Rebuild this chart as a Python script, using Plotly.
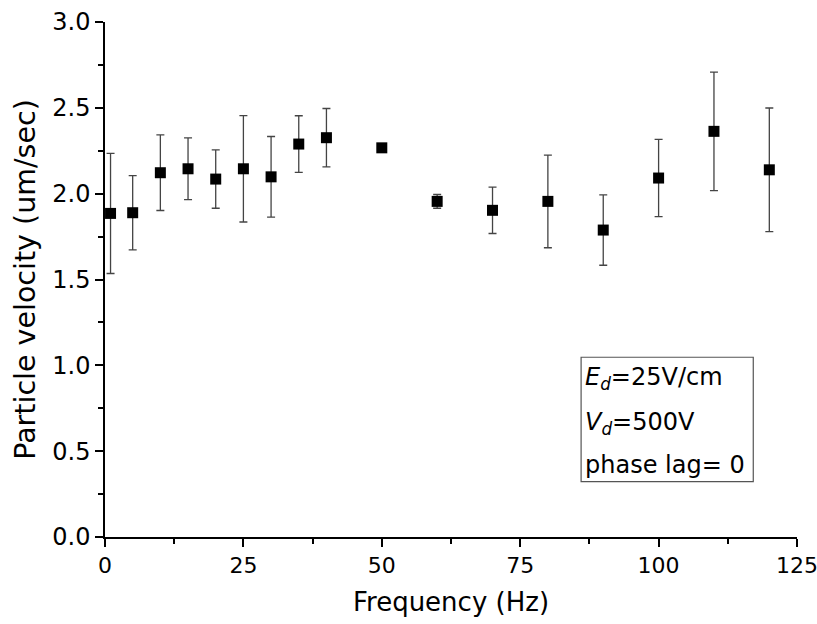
import plotly.graph_objects as go

freq = [1, 5, 10, 15, 20, 25, 30, 35, 40, 50, 60, 70, 80, 90, 100, 110, 120]
velocity = [1.885, 1.889, 2.122, 2.145, 2.085, 2.145, 2.098, 2.289, 2.326, 2.267,
            1.955, 1.903, 1.955, 1.788, 2.091, 2.363, 2.139]
err = [0.35, 0.216, 0.22, 0.18, 0.17, 0.31, 0.235, 0.165, 0.17, 0.02,
       0.04, 0.135, 0.27, 0.205, 0.225, 0.345, 0.36]

FONT = "DejaVu Sans"

fig = go.Figure()
fig.add_trace(go.Scatter(
    x=freq, y=velocity, mode="markers",
    marker=dict(symbol="square", size=11, color="black"),
    error_y=dict(type="data", array=err, visible=True, color="#444444",
                 thickness=1.3, width=4),
    showlegend=False,
))

fig.update_layout(
    width=817, height=624,
    margin=dict(l=105, r=20, t=22, b=87),
    paper_bgcolor="white", plot_bgcolor="white",
    font=dict(family=FONT, color="black"),
    xaxis=dict(
        range=[0, 125], tickmode="linear", tick0=0, dtick=25, automargin=False,
        ticklabeloverflow="allow",
        showgrid=False, zeroline=False, showline=True, linecolor="black", linewidth=1.5,
        ticks="outside", ticklen=8, tickwidth=1.5, tickcolor="black",
        tickfont=dict(size=22, family=FONT),
        minor=dict(dtick=12.5, ticks="outside", ticklen=5, tickwidth=1.5, tickcolor="black", showgrid=False),
        title=dict(text="Frequency (Hz)", font=dict(size=26, family=FONT), standoff=16),
    ),
    yaxis=dict(
        range=[0, 3], tickmode="linear", tick0=0, dtick=0.5, tickformat=".1f", automargin=False,
        showgrid=False, zeroline=False, showline=True, linecolor="black", linewidth=1.5,
        ticks="outside", ticklen=8, tickwidth=1.5, tickcolor="black",
        tickfont=dict(size=24, family=FONT),
        minor=dict(dtick=0.25, ticks="outside", ticklen=5, tickwidth=1.5, tickcolor="black", showgrid=False),
        title=dict(text="Particle velocity (um/sec)", font=dict(size=28.5, family=FONT), standoff=8),
    ),
)

fig.add_shape(type="rect", xref="x", yref="y", x0=86.0, x1=117.1, y0=0.322, y1=1.047,
              line=dict(color="#555555", width=1.2), fillcolor="rgba(0,0,0,0)")

lines = [
    ("<i>E</i><sub><i>d</i></sub>=25V/cm", 0.923),
    ("<i>V</i><sub><i>d</i></sub>=500V", 0.663),
    ("phase lag= 0", 0.419),
]
for txt, yy in lines:
    fig.add_annotation(x=86.3, y=yy, xref="x", yref="y", text=txt, showarrow=False,
                       xanchor="left", yanchor="middle",
                       font=dict(size=24, family=FONT, color="black"))

fig.write_html("out.html")
